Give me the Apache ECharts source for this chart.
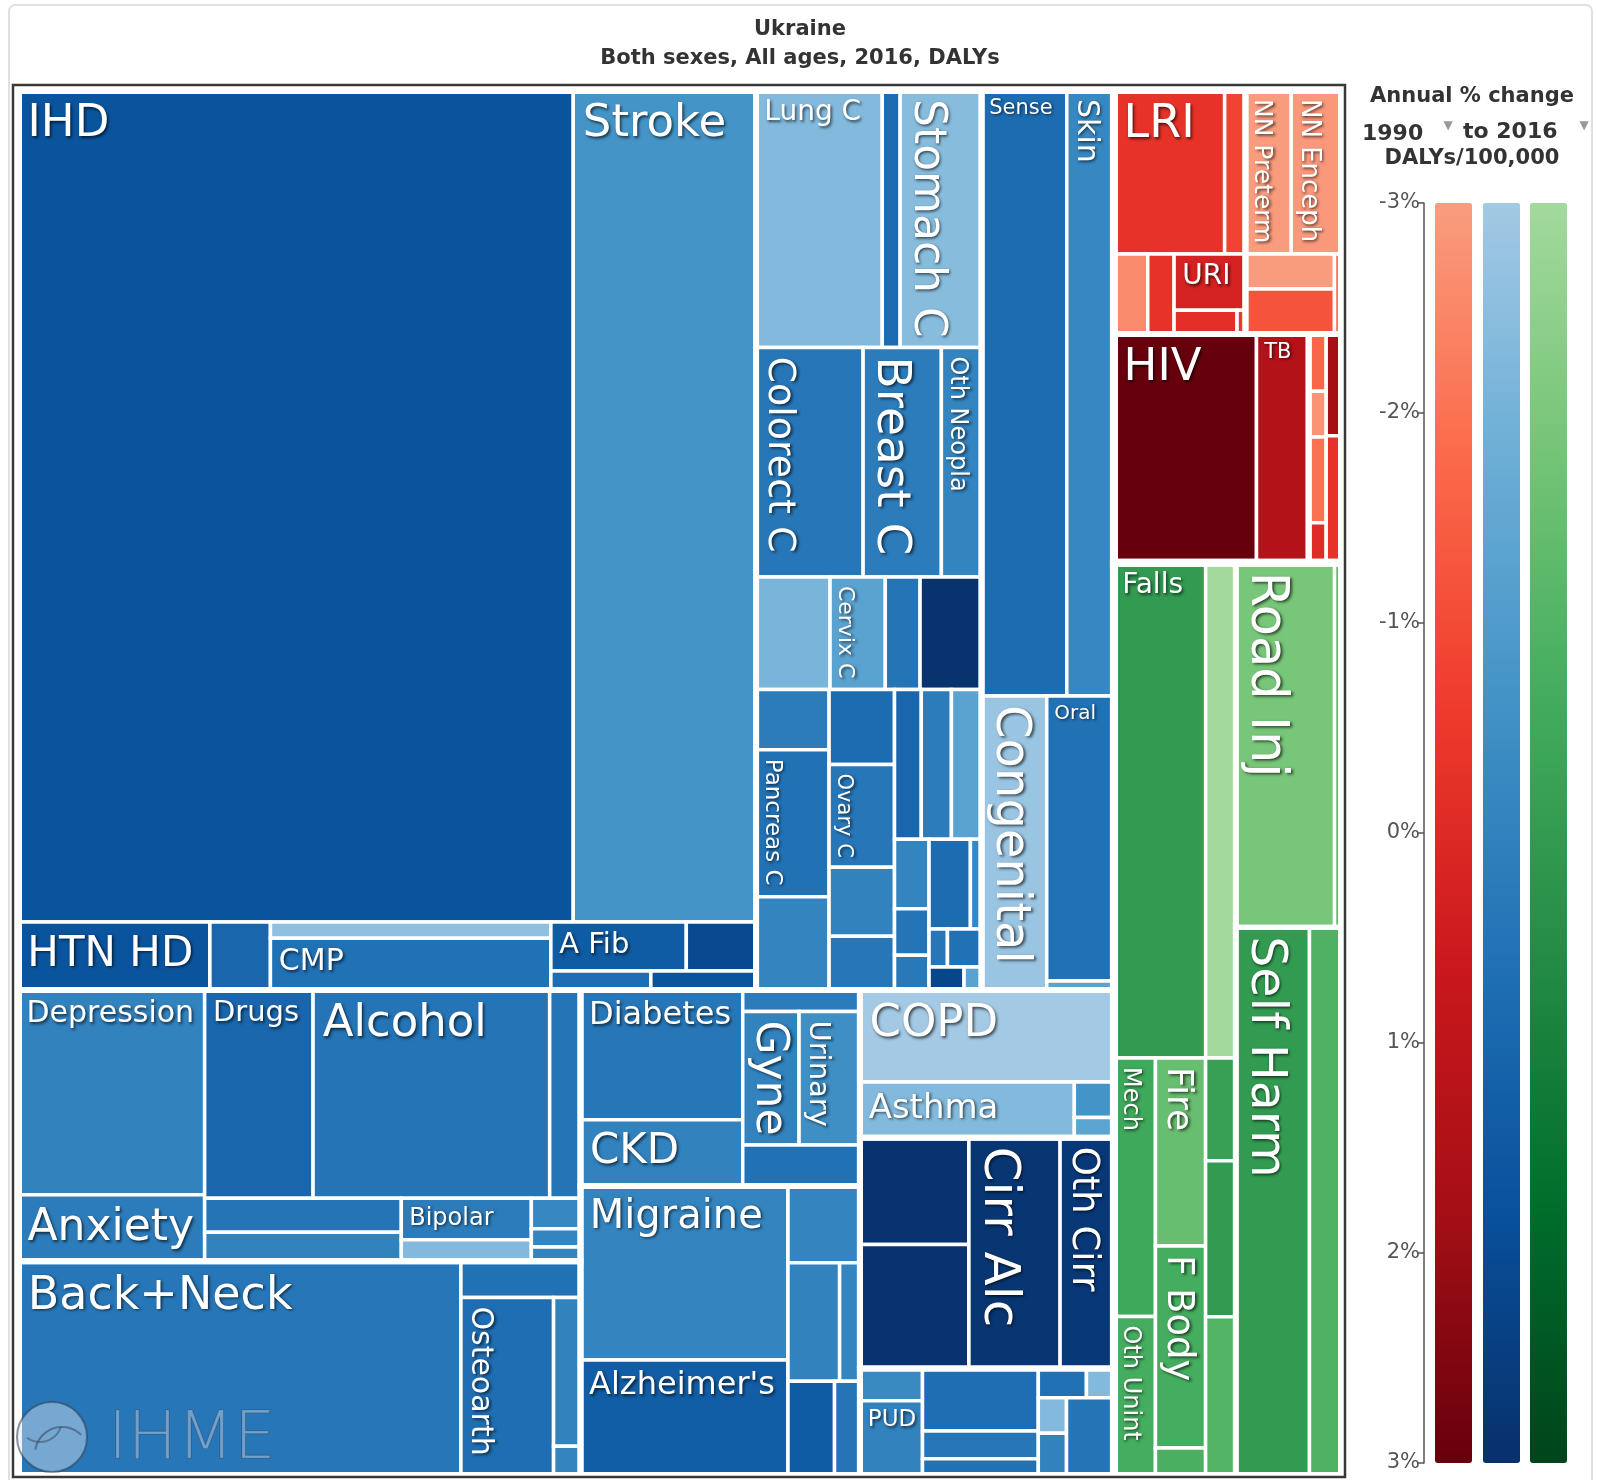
<!DOCTYPE html>
<html>
<head>
<meta charset="utf-8">
<script src="https://cdn.jsdelivr.net/npm/echarts@6/dist/echarts.min.js"></script>
<style>html,body{margin:0;padding:0;background:#fff;}#c{width:1597px;height:1480px;}</style>
</head>
<body>
<div id="c"></div>
<script>
// ---- DATA: DALYs (thousands) and annual % change 1990-2016, per cause group ----
const cvdNames = ['IHD','Stroke','HTN HD','Oth Cardio','Myocarditis','CMP','A Fib','Aortic An','PAD','Endocarditis'];
const cvdDalys = [4607,1517,130,41,45,145,66,34,19,20];
const cvdChange = [1.7,-0.7,1.7,1.0,-2.6,0.6,1.4,2.1,0.7,1.7];

const neoNames = ['Lung C','Esoph C','Stomach C','Colorect C','Breast C','Oth Neopla','Liver C','Cervix C','Leukemia','Prostate C','Lip/Oral C','Pancreas C','Kidney C','Brain C','Ovary C','Bladder C','Lymphoma','Larynx C','Uterine C','Gallblad C','Myeloma','Thyroid C','Melanoma','Nasoph C','Testic C','Mesothel','NM Skin C','Hodgkin','Oth Malig'];
const neoDalys = [324,46,209,245,179,92,83,62,39,69,44,107,68,49,67,45,35,40,45,45,24,16,12,37,10,7,13,8,4];
const neoChange = [-2.3,0.8,-2.4,0.4,0.2,-0.1,-2.1,-1.3,0.5,2.9,0.2,0.6,-0.1,0.8,0.4,0.0,0.4,1.0,0.2,-1.3,-0.1,0.5,0.3,0.8,-0.2,0.4,0.6,2.2,-1.3];

const othNcdNames = ['Sense','Skin','Congenital','Oral','SIDS'];
const othNcdDalys = [515,285,191,191,6];
const othNcdChange = [0.8,-0.2,-2.8,0.6,-1.3];

const mentalNames = ['Depression','Anxiety','Drugs','Alcohol','Schizophrenia','Conduct','Autism','Bipolar','Eating','ADHD','Idiopathic ID','Oth Mental'];
const mentalDalys = [381,124,225,491,64,67,57,54,28,15,9,7];
const mentalChange = [0.0,0.2,1.0,0.5,0.5,0.5,0.0,0.2,-2.3,-0.2,-0.1,-0.1];

const mskNames = ['Back+Neck','Oth MSK','Osteoarth','RA','Gout'];
const mskDalys = [948,43,165,40,8];
const mskChange = [0.4,0.6,0.7,0.0,-0.1];

const diabNames = ['Diabetes','CKD','Endocrine','Gyne','Urinary','Hemog'];
const diabDalys = [210,107,25,75,81,48];
const diabChange = [0.4,0.0,0.2,0.0,-0.5,0.6];

const neuroNames = ['Migraine',"Alzheimer's",'Epilepsy','TTH','MS',"Parkinson's",'Oth Neuro'];
const neuroDalys = [360,240,55,61,24,44,24];
const neuroChange = [-0.1,1.3,-0.1,0.0,-0.1,1.4,0.5];

const respNames = ['COPD','Asthma','Pneumocon','ILD'];
const respDalys = [233,119,14,8];
const respChange = [-3.0,-2.3,-0.7,-1.4];

const digNames = ['Cirr HepC','Cirr HepB','Cirr Alc','Oth Cirr','Gastritis','PUD','Ileus','Pancreatitis','Vasc Intest','Gallbladder','Append','Hernia','IBD','Oth Digest'];
const digDalys = [116,135,210,124,20,47,72,32,20,14,8,10,12,37];
const digChange = [2.9,2.9,2.8,2.7,-0.3,0.0,0.7,0.4,0.6,0.6,-2.3,-2.3,0.0,0.5];

const infNames = ['LRI','Otitis','Diarrhea','Meningitis','URI','Encephalitis','Oth Resp','HIV','TB','Hep B','Hep C','STD','Oth NTD','Varicella','Oth Infect'];
const infDalys = [181,34,27,21,40,15,2,325,119,10,8,15,7,16,20];
const infChange = [-0.3,-0.8,-2.6,-0.3,0.3,-0.2,-0.5,3.0,1.4,-1.7,-2.8,-2.0,-0.1,1.8,-0.3];

const nnNames = ['NN Preterm','NN Enceph','NN Sepsis','Oth Neonatal','NN Hemol'];
const nnDalys = [75,83,31,40,6];
const nnChange = [-3.0,-2.9,-3.0,-1.2,-2.0];

const injNames = ['Falls','Poisoning','Mech','Oth Unint','Fire','F Body','Envir Heat','Drowning','Exposure','Animal','Road Inj','Oth Transport','Self Harm','Violence'];
const injDalys = [453,149,107,66,94,101,14,31,47,48,359,27,403,178];
const injChange = [0.0,-3.0,-0.5,-0.7,-1.5,-0.7,-0.8,-0.2,0.0,-1.0,-1.9,-1.2,0.0,-0.9];

const legendTicks = [-3,-2,-1,0,1,2,3];

// ---- colour scales (annual % change -3 .. 3) ----
const blueStops = ['#a3c9e4','#6baed6','#4292c6','#2171b5','#08519c','#08306b'];
const redStops = ['#f99c7e','#fb6a4a','#ef3b2c','#cb181d','#a50f15','#67000d'];
const greenStops = ['#a3d99d','#74c476','#41ab5d','#238b45','#006d2c','#00441b'];

// ---- registry ----
const families = ['blue','red','green'];
const groupDefs = [
  ['blue', cvdNames, cvdDalys, cvdChange],
  ['blue', neoNames, neoDalys, neoChange],
  ['blue', othNcdNames, othNcdDalys, othNcdChange],
  ['blue', mentalNames, mentalDalys, mentalChange],
  ['blue', mskNames, mskDalys, mskChange],
  ['blue', diabNames, diabDalys, diabChange],
  ['blue', neuroNames, neuroDalys, neuroChange],
  ['blue', respNames, respDalys, respChange],
  ['blue', digNames, digDalys, digChange],
  ['red', infNames, infDalys, infChange],
  ['red', nnNames, nnDalys, nnChange],
  ['green', injNames, injDalys, injChange]
];
const leaf = {};
groupDefs.forEach(g => g[1].forEach((n, i) => { leaf[n] = {fam: g[0], value: g[2][i], change: g[3][i]}; }));

// ---- nesting structure: [direction, group gap, ...children] ----
const BLUE_TREE = ['v', 8,
  ['h', 0,
    ['v', 6, ['h',0,'IHD','Stroke'], ['h',0,'HTN HD','Oth Cardio',['v',0,'Myocarditis','CMP'],['v',0,['h',0,'A Fib','Aortic An'],['h',0,'PAD','Endocarditis']]]],
    ['v', 6,
      ['h',0,'Lung C','Esoph C','Stomach C'],
      ['h',0,'Colorect C','Breast C','Oth Neopla'],
      ['h',0,'Liver C','Cervix C','Leukemia','Prostate C'],
      ['h',0,
        ['v',0,'Lip/Oral C','Pancreas C','Kidney C'],
        ['v',0,'Brain C','Ovary C','Bladder C','Lymphoma'],
        ['v',0,
          ['h',0,'Larynx C','Uterine C','Gallblad C'],
          ['h',0,
            ['v',0,'Myeloma','Thyroid C','Melanoma'],
            ['v',0,['h',0,'Nasoph C','Testic C'],['v',0,['h',0,'Mesothel','NM Skin C'],['h',0,'Hodgkin','Oth Malig']]]]]]],
    ['v', 6, ['h',0,'Sense','Skin'], ['h',0,'Congenital',['v',0,'Oral','SIDS']]]
  ],
  ['h', 0,
    ['v', 0,
      ['h', 6, ['v',0,'Depression','Anxiety'], ['v',0,['h',0,'Drugs','Alcohol','Schizophrenia'],['h',0,['v',0,'Conduct','Autism'],['v',0,'Bipolar','Eating'],['v',0,'ADHD','Idiopathic ID','Oth Mental']]]],
      ['h', 6, 'Back+Neck', ['v',0,'Oth MSK',['h',0,'Osteoarth',['v',0,'RA','Gout']]]]],
    ['v', 0,
      ['h', 6, ['v',0,'Diabetes','CKD'], ['v',0,'Endocrine',['h',0,'Gyne','Urinary'],'Hemog']],
      ['h', 6, ['v',0,'Migraine',"Alzheimer's"], ['v',0,'Epilepsy',['h',0,'TTH','MS'],['h',0,"Parkinson's",'Oth Neuro']]]],
    ['v', 0,
      ['v', 6, 'COPD', ['h',0,'Asthma',['v',0,'Pneumocon','ILD']]],
      ['h', 6, ['v',0,'Cirr HepC','Cirr HepB'],'Cirr Alc','Oth Cirr'],
      ['h', 6, ['v',0,'Gastritis','PUD'],['v',0,'Ileus','Pancreatitis','Vasc Intest'],['v',0,['h',0,'Gallbladder','Append'],['h',0,['v',0,'Hernia','IBD'],'Oth Digest']]]]
  ]
];
const RED_TREE = ['v', 8,
  ['h', 0,
    ['v', 6, ['h',0,'LRI','Otitis'], ['h',0,'Diarrhea','Meningitis',['v',0,'URI',['h',0,'Encephalitis','Oth Resp']]]],
    ['v', 6, ['h',0,'NN Preterm','NN Enceph'], ['h',0,['v',0,'NN Sepsis','Oth Neonatal'],'NN Hemol']]],
  ['h', 0, ['h',6,'HIV','TB'], ['h',6,['v',0,'Hep B','Hep C','STD','Oth NTD'],['v',0,'Varicella','Oth Infect']]]
];
const GREEN_TREE = ['h', 8,
  ['v', 6, ['h',0,'Falls','Poisoning'], ['h',0,['v',0,'Mech','Oth Unint'],['v',0,'Fire','F Body','Envir Heat'],['v',0,'Drowning','Exposure','Animal']]],
  ['v', 0, ['h',5,'Road Inj','Oth Transport'], ['h',5,'Self Harm','Violence']]
];
const ROOT = ['h', 0, BLUE_TREE, ['v', 0, RED_TREE, GREEN_TREE]];

// ---- label styles: [font size, vertical] ----
const labelStyle = {
  'IHD':[45,0],'Stroke':[45,0],'Lung C':[28,0],'Stomach C':[44,1],'Colorect C':[38,1],'Breast C':[47,1],'Oth Neopla':[24,1],
  'Cervix C':[22,1],'Pancreas C':[23,1],'Ovary C':[21,1],'Sense':[21,0],'Skin':[30,1],'Congenital':[48,1],'Oral':[20,0],
  'HTN HD':[42,0],'CMP':[30,0],'A Fib':[29,0],'Depression':[30,0],'Drugs':[29,0],'Alcohol':[45,0],'Anxiety':[44,0],
  'Bipolar':[24,0],'Back+Neck':[46,0],'Osteoarth':[30,1],'Diabetes':[32,0],'CKD':[42,0],'Gyne':[44,1],'Urinary':[29,1],
  'Migraine':[40,0],"Alzheimer's":[32,0],'COPD':[45,0],'Asthma':[34,0],'Cirr Alc':[50,1],'Oth Cirr':[37,1],'PUD':[23,0],
  'LRI':[46,0],'NN Preterm':[25,1],'NN Enceph':[26,1],'URI':[28,0],'HIV':[45,0],'TB':[21,0],'Falls':[28,0],
  'Road Inj':[51,1],'Self Harm':[49,1],'Mech':[24,1],'Fire':[36,1],'F Body':[37,1],'Oth Unint':[24,1]
};

// ---- layout from values (slice & dice along the given nesting) ----
const sumCache = new Map();
function total(node) {
  if (typeof node === 'string') return leaf[node].value;
  if (sumCache.has(node)) return sumCache.get(node);
  let s = 0; for (let i = 2; i < node.length; i++) s += total(node[i]);
  sumCache.set(node, s); return s;
}
const leafItems = {blue: [], red: [], green: []};
const groupItems = [];
function layout(node, x0, y0, x1, y1) {
  if (typeof node === 'string') {
    const L = leaf[node];
    leafItems[L.fam].push({name: node, value: [x0, y0, x1, y1, L.change]});
    return;
  }
  if (node[1]) groupItems.push({value: [x0, y0, x1, y1, node[1]]});
  const t = total(node), horiz = node[0] === 'h';
  let pos = horiz ? x0 : y0;
  const len = horiz ? (x1 - x0) : (y1 - y0);
  for (let i = 2; i < node.length; i++) {
    const next = pos + total(node[i]) / t * len;
    if (horiz) layout(node[i], pos, y0, next, y1); else layout(node[i], x0, pos, x1, next);
    pos = next;
  }
}
// root extent in the (hidden) value axes of grid 0
layout(ROOT, 5, 5, 1329, 1391);

function cellRect(api) {
  const a = api.coord([api.value(0), api.value(1)]);
  const b = api.coord([api.value(2), api.value(3)]);
  return {x: Math.min(a[0], b[0]), y: Math.min(a[1], b[1]), w: Math.abs(b[0] - a[0]), h: Math.abs(b[1] - a[1])};
}
function makeLeafRender(fam) {
  return function (params, api) {
    const r = cellRect(api);
    const name = leafItems[fam][params.dataIndex].name;
    const kids = [{type: 'rect', shape: {x: r.x, y: r.y, width: r.w, height: r.h},
      style: {fill: api.visual('color'), stroke: '#ffffff', lineWidth: 3.5}}];
    const ls = labelStyle[name];
    if (ls) {
      const fs = ls[0], vert = ls[1];
      kids.push({type: 'text', silent: true,
        x: vert ? r.x + 4 : r.x + 6 + fs * 0.08, y: vert ? r.y + 9 : r.y + 4 + fs * 0.18,
        rotation: vert ? -Math.PI / 2 : 0,
        style: {text: name, fill: '#ffffff', font: fs + 'px "DejaVu Sans"',
          align: 'left', textAlign: 'left',
          verticalAlign: vert ? 'bottom' : 'top', textVerticalAlign: vert ? 'bottom' : 'top',
          textShadowColor: 'rgba(0,0,0,0.65)', textShadowBlur: 3, textShadowOffsetX: 1.5, textShadowOffsetY: 1.5}});
    }
    return {type: 'group', children: kids};
  };
}

const stops = {blue: blueStops, red: redStops, green: greenStops};
const series = families.map(f => ({
  type: 'custom', name: f, coordinateSystem: 'cartesian2d', xAxisIndex: 0, yAxisIndex: 0,
  renderItem: makeLeafRender(f), data: leafItems[f], encode: {x: [0, 2], y: [1, 3]}, clip: false
}));
series.push({
  type: 'custom', name: 'groups', coordinateSystem: 'cartesian2d', xAxisIndex: 0, yAxisIndex: 0, silent: true,
  renderItem: function (params, api) {
    const r = cellRect(api);
    return {type: 'rect', shape: {x: r.x, y: r.y, width: r.w, height: r.h},
      style: {fill: 'none', stroke: '#ffffff', lineWidth: api.value(4)}};
  },
  data: groupItems, encode: {x: [0, 2], y: [1, 3]}, clip: false
});

const legendLeft = {red: 1435, blue: 1483, green: 1530};
const visualMaps = families.map((f, i) => ({
  type: 'continuous', seriesIndex: i, dimension: 4, min: -3, max: 3, inverse: true, orient: 'vertical',
  left: legendLeft[f], top: 203, itemWidth: 37, itemHeight: 1260, calculable: false, padding: 0,
  hoverLink: false, inRange: {color: stops[f]}
}));

const option = {
  animation: false,
  backgroundColor: '#ffffff',
  grid: [
    {left: 13, top: 85, width: 1332, height: 1392, containLabel: false, outerBoundsMode: 'none', show: false},
    {left: 1424, top: 203, width: 1, height: 1260, containLabel: false, outerBoundsMode: 'none', show: false}
  ],
  xAxis: [
    {type: 'value', gridIndex: 0, min: 0, max: 1332, show: false},
    {type: 'value', gridIndex: 1, min: 0, max: 1, show: false}
  ],
  yAxis: [
    {type: 'value', gridIndex: 0, min: 0, max: 1392, inverse: true, show: false},
    {type: 'value', gridIndex: 1, min: legendTicks[0], max: legendTicks[legendTicks.length - 1], interval: 1, inverse: true,
      position: 'left',
      axisLine: {show: true, lineStyle: {color: '#555', width: 1.5}},
      axisTick: {show: true, length: 7, lineStyle: {color: '#555', width: 1.5}},
      splitLine: {show: false},
      axisLabel: {formatter: '{value}%', color: '#555', fontSize: 21, fontFamily: 'DejaVu Sans', margin: 4}}
  ],
  visualMap: visualMaps,
  series: series,
  graphic: [
    {type: 'rect', shape: {x: 9, y: 5, width: 1583, height: 1490, r: 6}, style: {fill: 'none', stroke: '#e0e0e0', lineWidth: 2}, z: 1},
    {type: 'text', x: 800, y: 30, style: {text: 'Ukraine', font: 'bold 21px "DejaVu Sans"', fill: '#333', align: 'center', verticalAlign: 'middle', textAlign: 'center', textVerticalAlign: 'middle'}},
    {type: 'text', x: 800, y: 59, style: {text: 'Both sexes, All ages, 2016, DALYs', font: 'bold 21px "DejaVu Sans"', fill: '#333', align: 'center', verticalAlign: 'middle', textAlign: 'center', textVerticalAlign: 'middle'}},
    {type: 'text', x: 1472, y: 97, style: {text: 'Annual % change', font: 'bold 21px "DejaVu Sans"', fill: '#333', align: 'center', verticalAlign: 'middle', textAlign: 'center', textVerticalAlign: 'middle'}},
    {type: 'text', x: 1362, y: 134, style: {text: '1990', font: 'bold 22px "DejaVu Sans"', fill: '#333', align: 'left', verticalAlign: 'middle', textAlign: 'left', textVerticalAlign: 'middle'}},
    {type: 'text', x: 1448, y: 126, style: {text: '▼', font: '12px "DejaVu Sans"', fill: '#999', align: 'center', verticalAlign: 'middle', textAlign: 'center', textVerticalAlign: 'middle'}},
    {type: 'text', x: 1463, y: 132, style: {text: 'to 2016', font: 'bold 22px "DejaVu Sans"', fill: '#333', align: 'left', verticalAlign: 'middle', textAlign: 'left', textVerticalAlign: 'middle'}},
    {type: 'text', x: 1584, y: 126, style: {text: '▼', font: '12px "DejaVu Sans"', fill: '#999', align: 'center', verticalAlign: 'middle', textAlign: 'center', textVerticalAlign: 'middle'}},
    {type: 'text', x: 1472, y: 159, style: {text: 'DALYs/100,000', font: 'bold 21px "DejaVu Sans"', fill: '#333', align: 'center', verticalAlign: 'middle', textAlign: 'center', textVerticalAlign: 'middle'}},
    {type: 'rect', shape: {x: 13, y: 85, width: 1332, height: 1392}, style: {fill: 'none', stroke: '#383838', lineWidth: 2.5}, z: 100},
    {type: 'circle', shape: {cx: 52, cy: 1437, r: 35}, style: {fill: 'rgba(215,228,242,0.45)', stroke: 'rgba(50,60,80,0.55)', lineWidth: 2}, z: 99},
    {type: 'arc', shape: {cx: 62, cy: 1454, r: 27, startAngle: Math.PI * 1.05, endAngle: Math.PI * 1.75}, style: {stroke: 'rgba(50,60,80,0.5)', lineWidth: 2, fill: 'none'}, z: 99},
    {type: 'arc', shape: {cx: 40, cy: 1420, r: 22, startAngle: Math.PI * 0.1, endAngle: Math.PI * 0.7}, style: {stroke: 'rgba(50,60,80,0.45)', lineWidth: 2, fill: 'none'}, z: 99},
    {type: 'text', x: 108, y: 1474, z: 99, style: {text: 'IHME', font: '200 66px "DejaVu Sans"', fill: 'rgba(200,214,232,0.45)', stroke: 'rgba(50,60,80,0.5)', lineWidth: 1.2, align: 'left', verticalAlign: 'bottom', textAlign: 'left', textVerticalAlign: 'bottom'}}
  ]
};

const chart = echarts.init(document.getElementById('c'), null, {renderer: 'canvas', width: 1597, height: 1480});
chart.setOption(option);
</script>
</body>
</html>
